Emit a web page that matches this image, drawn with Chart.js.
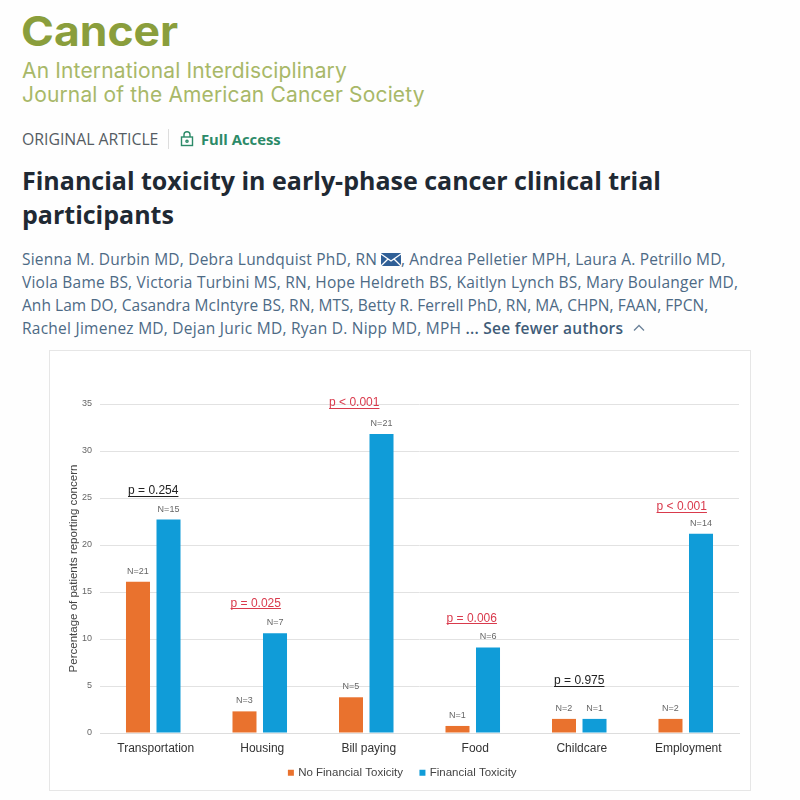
<!DOCTYPE html>
<html>
<head>
<meta charset="utf-8">
<style>
  html, body { margin: 0; padding: 0; background: #fefefe; }
  body { width: 800px; height: 800px; position: relative; overflow: hidden; font-family: "Open Sans", sans-serif; }
  .t { position: absolute; white-space: nowrap; line-height: 1; }
  #logo { left: 21px; top: 11px; font: 700 41px/1 Inter, sans-serif; color: #8a9e3c; transform: scaleX(1.085); transform-origin: left; }
  .sub { left: 22px; font: 400 21px/1 Inter, sans-serif; color: #a8b868; letter-spacing: 0.15px; }
  #kind { left: 22px; top: 132px; font-size: 15.8px; color: #555c63; }
  #divider { position: absolute; left: 168px; top: 129px; width: 1px; height: 20px; background: #dddddd; }
  #access { left: 201px; top: 132px; font-size: 14.8px; font-weight: 700; color: #2c8a68; }
  #lock { position: absolute; left: 180px; top: 131px; }
  .title { left: 22px; font-size: 25px; font-weight: 700; color: #1f2933; }
  .auth { left: 22px; font-size: 15.5px; color: #4d6a85; }
  .auth b { color: #3f5c78; font-weight: 600; }
  #mail { position: absolute; left: 381px; top: 253px; }
  #chev { position: absolute; left: 633px; top: 324px; }
  #card { position: absolute; left: 50px; top: 351px; width: 700px; height: 439px; background: #fff; box-shadow: 0 0 0 1px #e6e6e6; }
</style>
</head>
<body>
<div class="t" id="logo">Cancer</div>
<div class="t sub" style="top:60px">An International Interdisciplinary</div>
<div class="t sub" style="top:84px">Journal of the American Cancer Society</div>
<div class="t" id="kind">ORIGINAL ARTICLE</div>
<div id="divider"></div>
<svg id="lock" width="14" height="16" viewBox="0 0 14 16" fill="none" stroke="#2c8a68" stroke-width="1.4">
  <rect x="1.5" y="6" width="11" height="8.5"/><path d="M4 6V3.8a3 3 0 0 1 6 0V6"/><circle cx="7" cy="10.2" r="1.1"/>
</svg>
<div class="t" id="access">Full Access</div>
<div class="t title" style="top:168px">Financial toxicity in early-phase cancer clinical trial</div>
<div class="t title" style="top:202px">participants</div>
<div class="t auth" style="top:252px;letter-spacing:.2px">Sienna M. Durbin MD, Debra Lundquist PhD, RN</div>
<svg id="mail" width="20" height="13" viewBox="0 0 20 13">
  <rect width="20" height="13" rx="1" fill="#2f5f96"/><path d="M0 1l10 7 10-7M0 13l7-7M20 13l-7-7" stroke="#fff" stroke-width="1.3" fill="none"/>
</svg>
<div class="t auth" style="top:252px;left:401px;letter-spacing:.16px">, Andrea Pelletier MPH, Laura A. Petrillo MD,</div>
<div class="t auth" style="top:275px;letter-spacing:.22px">Viola Bame BS, Victoria Turbini MS, RN, Hope Heldreth BS, Kaitlyn Lynch BS, Mary Boulanger MD,</div>
<div class="t auth" style="top:298px;letter-spacing:.04px">Anh Lam DO, Casandra McIntyre BS, RN, MTS, Betty R. Ferrell PhD, RN, MA, CHPN, FAAN, FPCN,</div>
<div class="t auth" style="top:321px;letter-spacing:.25px">Rachel Jimenez MD, Dejan Juric MD, Ryan D. Nipp MD, MPH <b>... See fewer authors</b></div>
<svg id="chev" width="12" height="8" viewBox="0 0 12 8" fill="none" stroke="#6b8299" stroke-width="1.3"><path d="M1 6.5l5-5 5 5"/></svg>
<div id="card"><canvas id="chart" width="700" height="439"></canvas></div>
<script src="https://cdn.jsdelivr.net/npm/chart.js@4/dist/chart.umd.min.js"></script>
<script>
const categories = ['Transportation', 'Housing', 'Bill paying', 'Food', 'Childcare', 'Employment'];
const noToxicity = [16.1, 2.3, 3.8, 0.75, 1.5, 1.5];
const toxicity = [22.7, 10.6, 31.8, 9.1, 1.5, 21.2];
const noToxicityN = ['N=21', 'N=3', 'N=5', 'N=1', 'N=2', 'N=2'];
const toxicityN = ['N=15', 'N=7', 'N=21', 'N=6', 'N=1', 'N=14'];
const pLabels = ['p = 0.254', 'p = 0.025', 'p < 0.001', 'p = 0.006', 'p = 0.975', 'p < 0.001'];
const pSignificant = [false, true, true, true, false, true];

// small nudges of the p labels, the source placed them by hand
const pNudgeX = [0, -4, -12, -1, 0, -4];
const pNudgeY = [1, 0, -1, 1, -8, 3];

const FONT = '"Liberation Sans", Arial, sans-serif';

const labelPlugin = {
  id: 'barLabels',
  afterDatasetsDraw(chart) {
    const { ctx } = chart;
    const a = chart.getDatasetMeta(0).data;
    const b = chart.getDatasetMeta(1).data;
    ctx.save();
    ctx.textAlign = 'center';
    ctx.textBaseline = 'middle';

    // N counts
    ctx.font = '9px ' + FONT;
    ctx.fillStyle = '#666666';
    categories.forEach((c, i) => {
      ctx.fillText(noToxicityN[i], a[i].x, a[i].y - 10.5);
      ctx.fillText(toxicityN[i], b[i].x, b[i].y - 10.5);
    });

    // p values, underlined
    ctx.font = '12px ' + FONT;
    categories.forEach((c, i) => {
      const color = pSignificant[i] ? '#d93a4c' : '#222222';
      const x = chart.scales.x.getPixelForValue(i) + pNudgeX[i];
      const y = Math.min(a[i].y, b[i].y) - 30 + pNudgeY[i];
      const w = ctx.measureText(pLabels[i]).width;
      ctx.fillStyle = color;
      ctx.fillText(pLabels[i], x, y);
      ctx.strokeStyle = color;
      ctx.lineWidth = 1;
      ctx.beginPath();
      ctx.moveTo(x - w / 2, Math.round(y) + 5.5);
      ctx.lineTo(x + w / 2, Math.round(y) + 5.5);
      ctx.stroke();
    });
    ctx.restore();
  }
};

// legend padding sets both the item gap and the box height, the gap has to stay
// wide so the box gets a fixed height and its top is lifted toward the axis labels
const legendFit = {
  id: 'legendFit',
  beforeLayout(chart) {
    const legend = chart.legend;
    if (legend.fitWrapped) return;
    const fit = legend.fit;
    legend.fit = function () { fit.call(this); this.height = 25; };
    legend.fitWrapped = true;
  },
  afterLayout(chart) {
    chart.legend.top -= 14;
  }
};

new Chart(document.getElementById('chart'), {
  type: 'bar',
  data: {
    labels: categories,
    datasets: [
      { label: 'No Financial Toxicity', data: noToxicity, backgroundColor: '#e9722e', categoryPercentage: 0.573, barPercentage: 0.787 },
      { label: 'Financial Toxicity', data: toxicity, backgroundColor: '#109cd8', categoryPercentage: 0.573, barPercentage: 0.787 }
    ]
  },
  options: {
    responsive: false,
    animation: false,
    layout: { padding: { top: 53, right: 11, left: 17, bottom: 2 } },
    plugins: {
      tooltip: { enabled: false },
      legend: {
        position: 'bottom',
        labels: {
          usePointStyle: true, pointStyle: 'rect', boxWidth: 3, boxHeight: 6,
          padding: 18, color: '#444444', font: { family: FONT, size: 11.5 }
        }
      }
    },
    scales: {
      x: {
        afterFit(scale) { scale.height = 30; },
        grid: { display: false },
        border: { color: '#dddddd' },
        ticks: { color: '#333333', font: { family: FONT, size: 12 }, padding: 0, maxRotation: 0, labelOffset: 2.5 }
      },
      y: {
        min: 0, max: 35,
        afterFit(scale) { scale.width = 33; },
        grid: { color: '#e2e2e2', drawTicks: false },
        border: { display: false },
        ticks: { stepSize: 5, color: '#666666', font: { family: FONT, size: 9 }, padding: 8 },
        title: { display: true, text: 'Percentage of patients reporting concern', color: '#444444', font: { family: FONT, size: 11.5 }, padding: 0 }
      }
    }
  },
  plugins: [labelPlugin, legendFit]
});
</script>
</body>
</html>
